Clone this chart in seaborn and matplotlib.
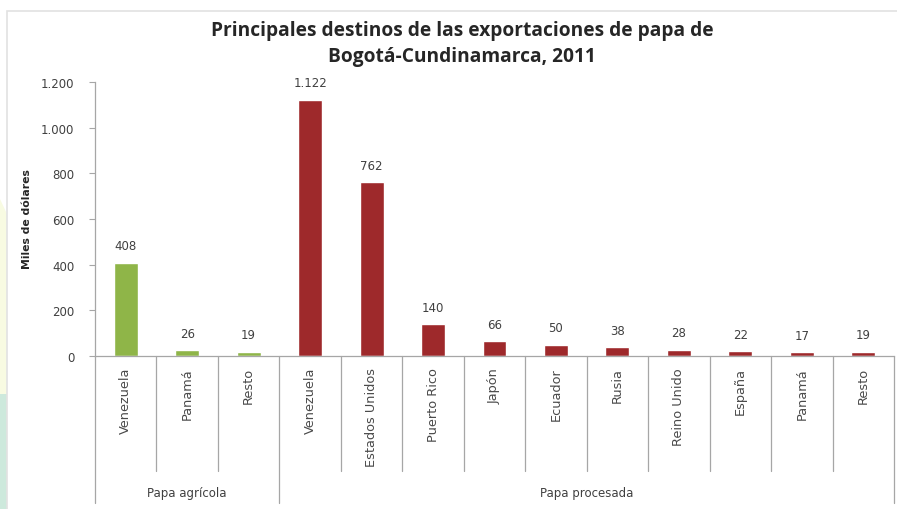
import matplotlib
matplotlib.use("Agg")
import matplotlib.pyplot as plt
import matplotlib.transforms as mtransforms
from matplotlib.patches import Rectangle, Polygon
import pandas as pd
import seaborn as sns

# Export destinations (thousands of US dollars), grouped by product type
grupos = ["Papa agrícola", "Papa procesada"]
destinos_agricola = ["Venezuela", "Panamá", "Resto"]
valores_agricola = [408, 26, 19]
destinos_procesada = ["Venezuela", "Estados Unidos", "Puerto Rico", "Japón", "Ecuador",
                      "Rusia", "Reino Unido", "España", "Panamá", "Resto"]
valores_procesada = [1122, 762, 140, 66, 50, 38, 28, 22, 17, 19]
yticks = [0, 200, 400, 600, 800, 1000, 1200]

colores = {"Papa agrícola": "#8FB548", "Papa procesada": "#9E292B"}

destinos = destinos_agricola + destinos_procesada
valores = valores_agricola + valores_procesada
grupo = [grupos[0]] * len(destinos_agricola) + [grupos[1]] * len(destinos_procesada)
claves = [f"{g}|{d}" for g, d in zip(grupo, destinos)]
df = pd.DataFrame({"clave": claves, "destino": destinos, "valor": valores, "grupo": grupo})

sns.set_theme(style="white")
plt.rcParams["font.family"] = ["DejaVu Sans"]

fig = plt.figure(figsize=(8.97, 5.10), dpi=100)
W, H = 897, 510

# page background strip and chart frame
fig.patches.append(Polygon([(0, 1 - 200 / H), (7 / W, 1 - 215 / H), (7 / W, 1 - 395 / H), (0, 1 - 395 / H)],
                           closed=True, transform=fig.transFigure, facecolor="#F8FBE2", edgecolor="none"))
fig.patches.append(Rectangle((0, 0), 7 / W, 1 - 395 / H, transform=fig.transFigure,
                             facecolor="#CDE9DC", edgecolor="none"))
fig.patches.append(Rectangle((7 / W, -0.01), 1 - 7 / W + 0.01, 1 - 12 / H + 0.01, transform=fig.transFigure,
                             facecolor="none", edgecolor="#E2E2E2", linewidth=1.2))

ax = fig.add_axes([95 / W, 153 / H, 799 / W, 274 / H])
sns.barplot(data=df, x="clave", y="valor", hue="grupo", palette=colores, order=claves,
            dodge=False, width=0.39, saturation=1, legend=False, ax=ax)

ax.set_xlim(-0.5, len(claves) - 0.5)
ax.set_ylim(0, 1200)
ax.set_yticks(yticks)
ax.set_yticklabels([f"{v:,}".replace(",", ".") for v in yticks], fontsize=8.5, color="#404040")
ax.tick_params(axis="y", which="major", left=True, length=4, width=0.8, color="#A6A6A6", pad=11)
ax.set_xticks(range(len(claves)))
ax.set_xticklabels(destinos, rotation=90, fontsize=9.3, color="#4A4A4A", va="top")
ax.tick_params(axis="x", bottom=False, pad=2)

for s in ["top", "right"]:
    ax.spines[s].set_visible(False)
for s in ["left", "bottom"]:
    ax.spines[s].set_color("#A6A6A6")
    ax.spines[s].set_linewidth(0.9)

ax.set_xlabel("")
ax.set_ylabel("")
fig.text(27 / W, 1 - 219 / H, "Miles de dólares", rotation=90, ha="center", va="center",
         fontsize=7.8, fontweight="bold", color="#262626")

# value labels
for cont in ax.containers:
    ax.bar_label(cont, labels=[f"{v:,.0f}".replace(",", ".") for v in cont.datavalues],
                 padding=7.5, fontsize=8.5, color="#404040")

# category separators below the axis
tr = mtransforms.blended_transform_factory(ax.transData, ax.transAxes)
n_agr = len(destinos_agricola)
for k in range(len(claves) + 1):
    x = k - 0.5
    largo = k in (0, n_agr, len(claves))
    ax.plot([x, x], [0, -0.535 if largo else -0.42], transform=tr, color="#A6A6A6",
            linewidth=0.9, clip_on=False)

# group labels
ax.text((n_agr - 1) / 2, -0.497, grupos[0], transform=tr, ha="center", va="center",
        fontsize=8.5, color="#404040")
ax.text(n_agr + (len(destinos_procesada) - 1) / 2, -0.497, grupos[1], transform=tr,
        ha="center", va="center", fontsize=8.5, color="#404040")

fig.text(462 / W, 1 - 44 / H, "Principales destinos de las exportaciones de papa de\nBogotá-Cundinamarca, 2011",
         ha="center", va="center", fontsize=13.8, fontweight="bold", color="#262626", linespacing=1.35,
         family=["Open Sans", "DejaVu Sans"])

fig.savefig("out.png", dpi=100)
